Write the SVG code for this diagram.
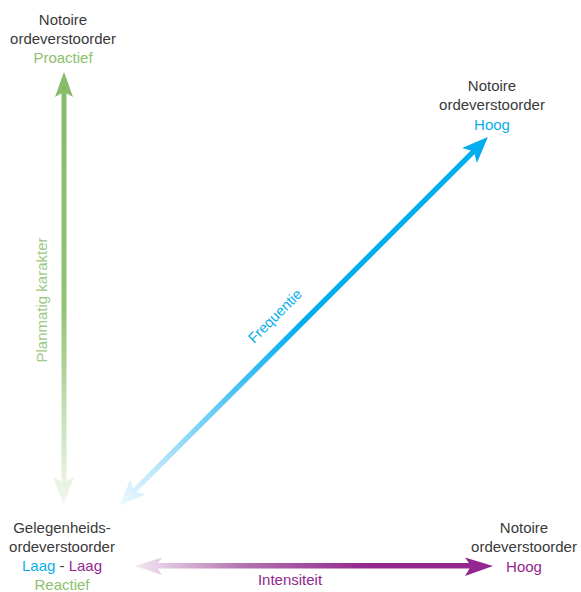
<svg xmlns="http://www.w3.org/2000/svg" width="581" height="592" viewBox="0 0 581 592">
<style>
text{font-family:"Liberation Sans",Arial,sans-serif;font-size:15px;text-anchor:middle}
.k{fill:#3a3a3a}.g{fill:#8cc06e}.b{fill:#0aaeea}.p{fill:#93278f}.gl{fill:#9dca82}
</style>
<defs>
<linearGradient id="gg" gradientUnits="userSpaceOnUse" x1="0" y1="72" x2="0" y2="506">
<stop offset="0" stop-color="#86bb68"/><stop offset="0.55" stop-color="#91c374"/><stop offset="1" stop-color="#f4f9f0"/>
</linearGradient>
<linearGradient id="bg" gradientUnits="userSpaceOnUse" x1="0" y1="0" x2="521" y2="0">
<stop offset="0" stop-color="#eef8fe"/><stop offset="0.3" stop-color="#52c4f2"/><stop offset="0.5" stop-color="#00aeef"/><stop offset="1" stop-color="#00aeef"/>
</linearGradient>
<linearGradient id="pg" gradientUnits="userSpaceOnUse" x1="135" y1="0" x2="493" y2="0">
<stop offset="0" stop-color="#f3e8f3"/><stop offset="0.3" stop-color="#b373b0"/><stop offset="0.65" stop-color="#93278f"/><stop offset="1" stop-color="#93278f"/>
</linearGradient>
</defs>
<g id="connectors">
<g id="arrow-vertical" fill="url(#gg)">
<rect x="61.5" y="90" width="5" height="395"/>
<polygon points="64,72 73,97 64,92 55,97"/>
<polygon points="63.5,505 74,477 63.5,483 53,477"/>
</g>
<g id="arrow-diagonal" fill="url(#bg)" transform="translate(119.5,505.5) rotate(-45)">
<rect x="18" y="-2.6" width="485" height="5.2"/>
<polygon points="0,0 26,-10.5 20,0 26,10.5"/>
<polygon points="521,0 495,-10.5 501,0 495,10.5"/>
</g>
<g id="arrow-horizontal" fill="url(#pg)">
<rect x="155" y="563" width="318" height="5.5"/>
<polygon points="135,566 162,557.5 156,566 162,575"/>
<polygon points="493,566 465,557.5 471,566 465,576"/>
</g>
</g>
<g id="node-top-left">
<text x="63" y="25" class="k">Notoire</text>
<text x="63" y="44" class="k">ordeverstoorder</text>
<text x="63" y="63" class="g">Proactief</text>
</g>
<g id="node-top-right">
<text x="492" y="91" class="k">Notoire</text>
<text x="492" y="110" class="k">ordeverstoorder</text>
<text x="492" y="130" class="b">Hoog</text>
</g>
<g id="node-bottom-left">
<text x="62" y="533" class="k">Gelegenheids-</text>
<text x="62" y="552" class="k">ordeverstoorder</text>
<text x="62" y="571"><tspan class="b">Laag</tspan><tspan class="k"> - </tspan><tspan class="p">Laag</tspan></text>
<text x="62" y="590" class="g">Reactief</text>
</g>
<g id="node-bottom-right">
<text x="524" y="533" class="k">Notoire</text>
<text x="524" y="552" class="k">ordeverstoorder</text>
<text x="524" y="572" class="p">Hoog</text>
</g>
<g id="labels">
<text class="gl" transform="translate(47,300) rotate(-90)">Planmatig karakter</text>
<text class="b" style="font-size:14.5px" transform="translate(278.5,319.5) rotate(-45)">Frequentie</text>
<text x="290" y="585" class="p">Intensiteit</text>
</g>
</svg>
